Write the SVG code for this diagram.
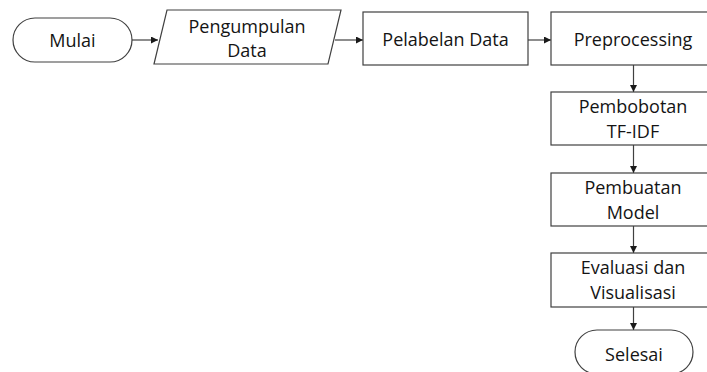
<svg xmlns="http://www.w3.org/2000/svg" width="707" height="372" viewBox="0 0 707 372">
<defs>
<style>
.s{fill:#fff;stroke:#404040;stroke-width:1.2}
.t{font-family:"Open Sans","Noto Sans",sans-serif;font-size:18px;fill:#141414;text-anchor:middle;dominant-baseline:central}
.c{stroke:#404040;stroke-width:1.2;fill:none}
</style>
<marker id="a" viewBox="0 0 10 10" refX="10" refY="5" markerWidth="7" markerHeight="7" markerUnits="userSpaceOnUse" orient="auto">
<path d="M0,0 L10,5 L0,10 z" fill="#1a1a1a"/>
</marker>
</defs>
<rect width="707" height="372" fill="#fff"/>
<g id="connectors">
<line class="c" x1="132" y1="40" x2="158" y2="40" marker-end="url(#a)"/>
<line class="c" x1="335" y1="40" x2="363" y2="40" marker-end="url(#a)"/>
<line class="c" x1="528" y1="40" x2="551" y2="40" marker-end="url(#a)"/>
<line class="c" x1="633.5" y1="65" x2="633.5" y2="92" marker-end="url(#a)"/>
<line class="c" x1="633.5" y1="145" x2="633.5" y2="173" marker-end="url(#a)"/>
<line class="c" x1="633.5" y1="226" x2="633.5" y2="253" marker-end="url(#a)"/>
<line class="c" x1="633.5" y1="307" x2="633.5" y2="330" marker-end="url(#a)"/>
</g>
<g id="mulai">
<rect class="s" x="13" y="18" width="119" height="44" rx="22" ry="22"/>
<text class="t" x="72.5" y="40">Mulai</text>
</g>
<g id="pengumpulan">
<polygon class="s" points="167,10 341,10 328,64 154,64"/>
<text class="t" x="247" y="26">Pengumpulan</text>
<text class="t" x="247" y="50">Data</text>
</g>
<g id="pelabelan">
<rect class="s" x="363" y="12" width="165" height="53"/>
<text class="t" x="445.5" y="39">Pelabelan Data</text>
</g>
<g id="preprocessing">
<rect class="s" x="551" y="12" width="165" height="53"/>
<text class="t" x="633" y="39">Preprocessing</text>
</g>
<g id="pembobotan">
<rect class="s" x="551" y="92" width="165" height="53"/>
<text class="t" x="633" y="106">Pembobotan</text>
<text class="t" x="633" y="131">TF-IDF</text>
</g>
<g id="pembuatan">
<rect class="s" x="551" y="173" width="165" height="53"/>
<text class="t" x="633" y="187">Pembuatan</text>
<text class="t" x="633" y="212">Model</text>
</g>
<g id="evaluasi">
<rect class="s" x="551" y="253" width="165" height="54"/>
<text class="t" x="633" y="267">Evaluasi dan</text>
<text class="t" x="633" y="292">Visualisasi</text>
</g>
<g id="selesai">
<rect class="s" x="575" y="330" width="118" height="44" rx="22" ry="22"/>
<text class="t" x="634" y="354">Selesai</text>
</g>
</svg>
